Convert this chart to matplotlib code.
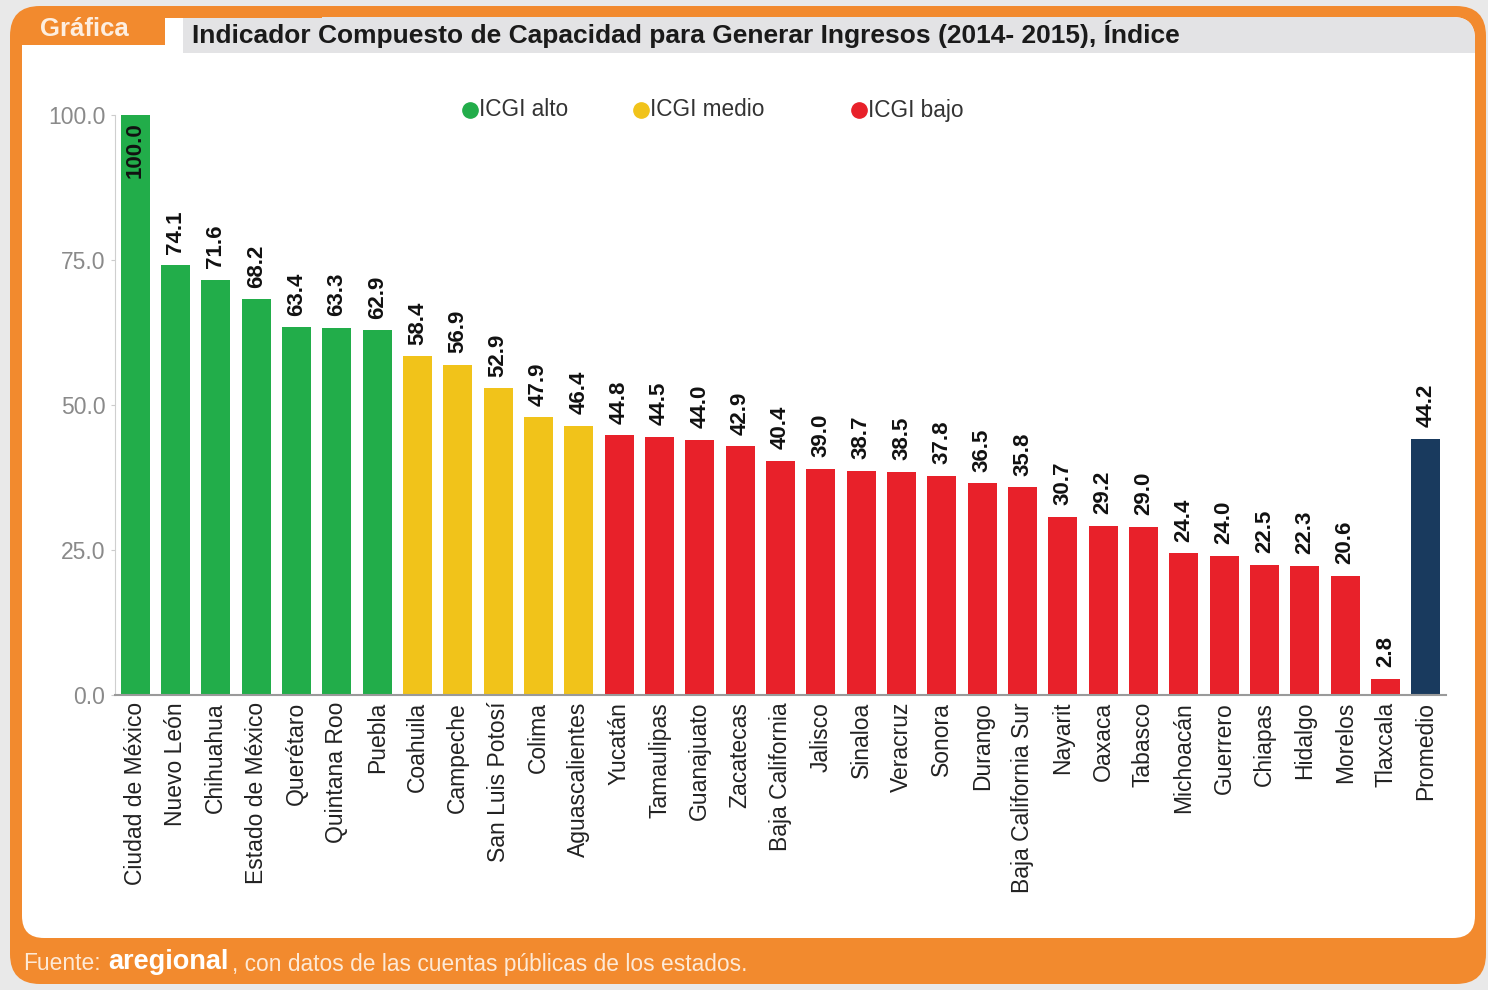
import numpy as np
import matplotlib.pyplot as plt
from matplotlib.patches import FancyBboxPatch, Rectangle
from matplotlib.lines import Line2D

plt.rcParams['font.family'] = ['Liberation Sans', 'DejaVu Sans']

# datos
estados = ['Ciudad de México', 'Nuevo León', 'Chihuahua', 'Estado de México',
           'Querétaro', 'Quintana Roo', 'Puebla', 'Coahuila', 'Campeche',
           'San Luis Potosí', 'Colima', 'Aguascalientes', 'Yucatán',
           'Tamaulipas', 'Guanajuato', 'Zacatecas', 'Baja California',
           'Jalisco', 'Sinaloa', 'Veracruz', 'Sonora', 'Durango',
           'Baja California Sur', 'Nayarit', 'Oaxaca', 'Tabasco', 'Michoacán',
           'Guerrero', 'Chiapas', 'Hidalgo', 'Morelos', 'Tlaxcala', 'Promedio']
icgi = [100.0, 74.1, 71.6, 68.2, 63.4, 63.3, 62.9, 58.4, 56.9, 52.9, 47.9,
        46.4, 44.8, 44.5, 44.0, 42.9, 40.4, 39.0, 38.7, 38.5, 37.8, 36.5,
        35.8, 30.7, 29.2, 29.0, 24.4, 24.0, 22.5, 22.3, 20.6, 2.8, 44.2]
grupo = ['alto'] * 7 + ['medio'] * 5 + ['bajo'] * 20 + ['prom']
yticks = [0, 25, 50, 75, 100]

colores = {'alto': '#22ad4a', 'medio': '#f1c31a', 'bajo': '#e8212a', 'prom': '#193a5e'}
naranja = '#f28a2e'

W, H = 1488, 990
fig = plt.figure(figsize=(W / 100, H / 100), dpi=100)
fig.patch.set_facecolor('#e9e9e9')

# marco de fondo en pixeles
bg = fig.add_axes([0, 0, 1, 1], zorder=0)
bg.set_xlim(0, W)
bg.set_ylim(H, 0)
bg.axis('off')
bg.add_patch(FancyBboxPatch((10, 6), 1476, 978, boxstyle='round,pad=0,rounding_size=30',
                            fc=naranja, ec='none'))
panel = FancyBboxPatch((22, 17), 1453, 921, boxstyle='round,pad=0,rounding_size=22',
                       fc='white', ec='none')
bg.add_patch(panel)
banda = Rectangle((183, 17), 1292, 36, fc='#e3e3e5', ec='none')
bg.add_patch(banda)
banda.set_clip_path(panel)
bg.add_patch(Rectangle((22, 17), 143, 28, fc=naranja, ec='none'))
bg.add_patch(Rectangle((22, 15), 300, 3, fc=naranja, ec='none'))
bg.text(40, 29, 'Gráfica', color='#fdeee0', fontsize=18.5, fontweight='bold', va='center')
bg.text(192, 34, 'Indicador Compuesto de Capacidad para Generar Ingresos (2014- 2015), Índice',
        color='#1a1a1a', fontsize=19, fontweight='bold', va='center')
bg.text(23, 964, 'Fuente:', color='#fde9d6', fontsize=16.4, va='center')
bg.text(108, 962, 'aregional', color='white', fontsize=19.5, fontweight='bold', va='center')
bg.text(232, 964, ', con datos de las cuentas públicas de los estados.', color='#fde9d6',
        fontsize=16.4, va='center')

# leyenda
for px, lab, g in [(470, 'ICGI alto', 'alto'), (641, 'ICGI medio', 'medio'), (859, 'ICGI bajo', 'bajo')]:
    bg.add_line(Line2D([px], [110], marker='o', ms=11, color=colores[g], ls='none'))
    bg.text(px + 9, 110, lab, color='#333333', fontsize=16.3, va='center')

# grafica principal
ax = fig.add_axes([115 / W, 1 - 695 / H, (1446 - 115) / W, (695 - 115) / H], zorder=1)
ax.patch.set_alpha(0)
x = np.arange(len(estados))
ax.bar(x, icgi, width=0.72, color=[colores[g] for g in grupo], zorder=2)
ax.set_xlim(-0.5, len(estados) - 0.5)
ax.set_ylim(0, 100)
ax.set_yticks(yticks)
ax.set_yticklabels(['%.1f' % v for v in yticks])
ax.set_xticks(x)
ax.set_xticklabels(estados, rotation=90, fontsize=16.5, color='#222222')
ax.tick_params(axis='x', length=0, pad=5)
ax.tick_params(axis='y', length=3, color='#cccccc', labelsize=16.5, labelcolor='#8a8a8a', pad=4)
for s in ['top', 'right']:
    ax.spines[s].set_visible(False)
ax.spines['left'].set_color('#cfcfcf')
ax.spines['bottom'].set_color('#9a9a9a')
ax.spines['bottom'].set_linewidth(1.5)

for xi, v in zip(x, icgi):
    if v >= 99:
        ax.text(xi, v - 1.2, '%.1f' % v, rotation=90, ha='center', va='top',
                fontsize=16, fontweight='bold', color='#111111')
    else:
        ax.text(xi, v + 2.0, '%.1f' % v, rotation=90, ha='center', va='bottom',
                fontsize=16, fontweight='bold', color='#111111')

plt.savefig('out.png', dpi=100, facecolor=fig.get_facecolor())
